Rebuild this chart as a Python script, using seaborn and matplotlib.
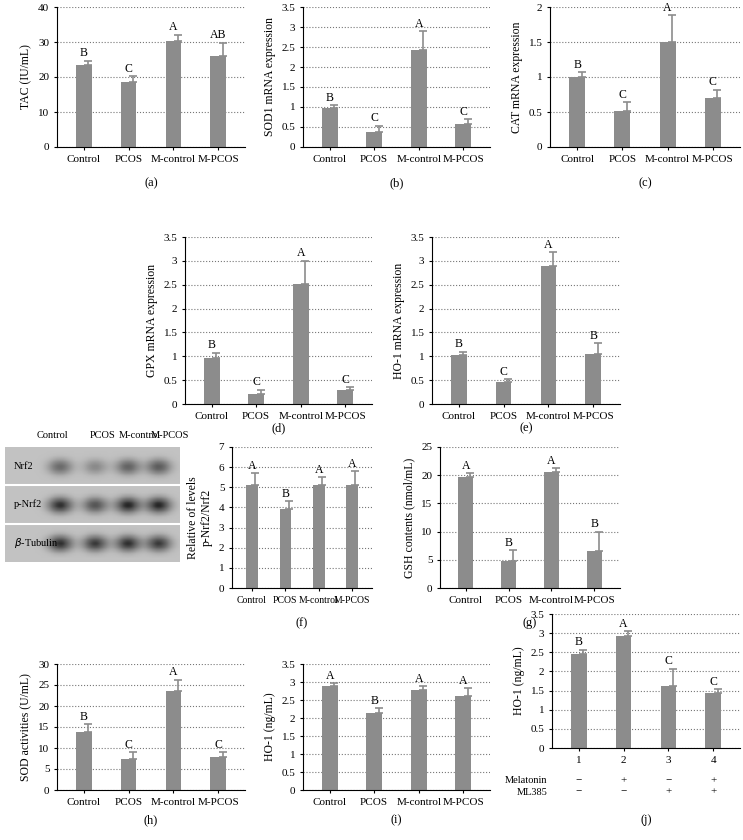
import numpy as np
import pandas as pd
import matplotlib
matplotlib.use("Agg")
import matplotlib.pyplot as plt
import seaborn as sns
from matplotlib.ticker import FuncFormatter

plt.rcParams["font.family"] = "Liberation Serif"
W, H = 743, 840
cats = ["Control", "PCOS", "M-control", "M-PCOS"]
cats_j = ["1", "2", "3", "4"]

a_val = [23.5, 18.7, 30.3, 26.0]; a_err = [1.2, 1.5, 1.8, 3.8]; a_let = ["B", "C", "A", "AB"]
b_val = [0.97, 0.38, 2.43, 0.57]; b_err = [0.08, 0.15, 0.47, 0.12]; b_let = ["B", "C", "A", "C"]
c_val = [1.0, 0.52, 1.5, 0.7]; c_err = [0.07, 0.12, 0.38, 0.12]; c_let = ["B", "C", "A", "C"]
d_val = [0.97, 0.22, 2.52, 0.30]; d_err = [0.1, 0.07, 0.48, 0.05]; d_let = ["B", "C", "A", "C"]
e_val = [1.03, 0.47, 2.90, 1.05]; e_err = [0.07, 0.05, 0.28, 0.22]; e_let = ["B", "C", "A", "B"]
f_val = [5.1, 3.9, 5.1, 5.1]; f_err = [0.6, 0.4, 0.4, 0.7]; f_let = ["A", "B", "A", "A"]
g_val = [19.6, 4.7, 20.5, 6.5]; g_err = [0.8, 2.0, 0.7, 3.5]; g_let = ["A", "B", "A", "B"]
h_val = [13.8, 7.3, 23.5, 7.8]; h_err = [1.8, 1.8, 2.8, 1.2]; h_let = ["B", "C", "A", "C"]
i_val = [2.88, 2.13, 2.77, 2.62]; i_err = [0.08, 0.15, 0.12, 0.2]; i_let = ["A", "B", "A", "A"]
j_val = [2.45, 2.93, 1.62, 1.43]; j_err = [0.12, 0.13, 0.45, 0.1]; j_let = ["B", "A", "C", "C"]
melatonin = ["\u2212", "+", "\u2212", "+"]
ml385 = ["\u2212", "\u2212", "+", "+"]

blot_lanes = ["Control", "PCOS", "M-control", "M-PCOS"]
blot_rows = ["Nrf2", "p-Nrf2", "$\\beta$-Tubulin"]
nrf2_int = [0.55, 0.35, 0.6, 0.65]
pnrf2_int = [0.9, 0.7, 0.95, 0.95]
tub_int = [0.9, 0.85, 0.9, 0.85]

fig = plt.figure(figsize=(W / 100, H / 100), dpi=100)

def ax_px(x0, y0, x1, y1):
    return fig.add_axes([x0 / W, 1 - y1 / H, (x1 - x0) / W, (y1 - y0) / H])

fmt = FuncFormatter(lambda v, p: f"{v:g}")

def panel(box, cats_, vals, errs, lets, ymax, step, ylabel, label, label_y, xfs=8):
    ax = ax_px(*box)
    df = pd.DataFrame({"cat": cats_, "val": vals})
    sns.barplot(data=df, x="cat", y="val", color="#8c8c8c", width=0.35, ax=ax,
                saturation=1, edgecolor="none")
    x = np.arange(len(vals))
    ax.errorbar(x + 0.1, vals, yerr=[np.zeros(len(errs)), errs], fmt="none",
                ecolor="#8c8c8c", elinewidth=1.2, capsize=3, capthick=1.2)
    for xi, v, e, l in zip(x, vals, errs, lets):
        ax.text(xi, v + e + ymax * 0.01, l, ha="center", va="bottom", fontsize=8.5)
    ax.set_ylim(0, ymax)
    ax.set_yticks(np.arange(0, ymax + step / 2, step))
    ax.yaxis.set_major_formatter(fmt)
    ax.set_xlim(-0.6, len(vals) - 0.4)
    ax.grid(axis="y", linestyle=":", color="#777", linewidth=0.8)
    ax.set_axisbelow(True)
    for s in ["top", "right"]:
        ax.spines[s].set_visible(False)
    ax.tick_params(labelsize=8, length=2)
    ax.tick_params(axis="x", labelsize=xfs)
    ax.set_xlabel("")
    ax.set_ylabel(ylabel, fontsize=8.5)
    fig.text((box[0] + box[2]) / 2 / W, 1 - label_y / H, label, ha="center", va="center", fontsize=9)
    return ax

panel((57, 7, 245, 147), cats, a_val, a_err, a_let, 40, 10, "TAC (IU/mL)", "(a)", 183)
panel((303, 7, 490, 147), cats, b_val, b_err, b_let, 3.5, 0.5, "SOD1 mRNA expression", "(b)", 183)
panel((550, 7, 740, 147), cats, c_val, c_err, c_let, 2, 0.5, "CAT mRNA expression", "(c)", 183)
panel((185, 237, 372, 404), cats, d_val, d_err, d_let, 3.5, 0.5, "GPX mRNA expression", "(d)", 428)
panel((432, 237, 620, 404), cats, e_val, e_err, e_let, 3.5, 0.5, "HO-1 mRNA expression", "(e)", 428)
panel((232, 447, 372, 588), cats, f_val, f_err, f_let, 7, 1, "Relative of levels\np-Nrf2/Nrf2", "(f)", 623, xfs=7)
panel((440, 447, 620, 588), cats, g_val, g_err, g_let, 25, 5, "GSH contents (nmol/mL)", "(g)", 623)
panel((57, 664, 245, 790), cats, h_val, h_err, h_let, 30, 5, "SOD activities (U/mL)", "(h)", 820)
panel((303, 664, 490, 790), cats, i_val, i_err, i_let, 3.5, 0.5, "HO-1 (ng/mL)", "(i)", 820)
axj = panel((552, 614, 740, 748), cats_j, j_val, j_err, j_let, 3.5, 0.5, "HO-1 (ng/mL)", "(j)", 820)
for xi, (m, k) in enumerate(zip(melatonin, ml385)):
    axj.text(xi, -0.85, m, ha="center", va="center", fontsize=8)
    axj.text(xi, -1.15, k, ha="center", va="center", fontsize=8)
axj.text(-0.7, -0.85, "Melatonin", ha="right", va="center", fontsize=7.5)
axj.text(-0.7, -1.15, "ML385", ha="right", va="center", fontsize=7.5)

# western blot image
bx0, bx1 = 5, 180
axb = ax_px(bx0, 447, bx1, 562)
rows_i = [nrf2_int, pnrf2_int, tub_int]
img = np.full((90, 160), 0.35)
xs = np.arange(160)
centers = [50, 82, 112, 140]
for r, ints in enumerate(rows_i):
    band = np.zeros(160)
    for c, it in zip(centers, ints):
        band += it * np.exp(-((xs - c) / 11.0) ** 2)
    for yy in range(r * 30 + 3, r * 30 + 27):
        prof = np.exp(-((yy - (r * 30 + 15)) / 6.0) ** 2)
        img[yy] = 0.35 + 0.55 * band * prof
img = np.clip(img, 0, 1)
axb.imshow(img, cmap="Greys", aspect="auto", vmin=0, vmax=1)
for r in [1, 2]:
    axb.axhline(r * 30 - 0.5, color="white", linewidth=1.5)
axb.set_xticks([]); axb.set_yticks([])
for sp in axb.spines.values():
    sp.set_visible(False)
lane_px = [52, 103, 140, 170]
for xp, n in zip(lane_px, blot_lanes):
    fig.text(xp / W, 1 - 435 / H, n, ha="center", va="center", fontsize=7.5)
for r, n in enumerate(blot_rows):
    fig.text(14 / W, 1 - (447 + (r * 30 + 15) * 115 / 90) / H, n, ha="left", va="center", fontsize=7.5)

fig.savefig("out.png", dpi=100)
